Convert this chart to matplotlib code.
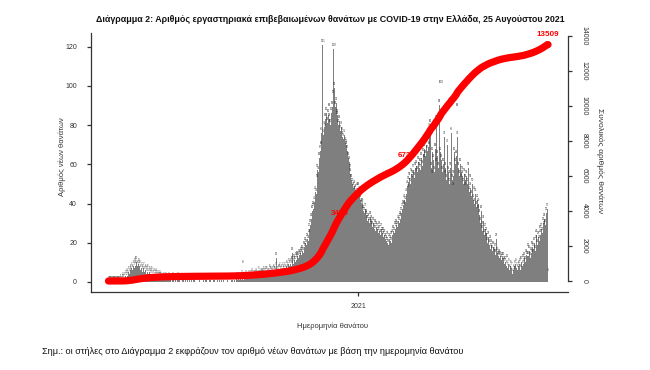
import matplotlib
matplotlib.use("Agg")
import matplotlib.pyplot as plt
import matplotlib.dates as mdates
import numpy as np
import pandas as pd

plt.rcParams['font.family'] = ['Liberation Sans', 'DejaVu Sans']

# daily new deaths by date of death (26 Feb 2020 - 25 Aug 2021)
start_date = "2020-02-26"
end_date = "2021-08-25"

feb20 = [0, 0, 0, 0]
mar20 = [0, 0, 0, 0, 0, 0, 0, 0, 0, 0, 0, 1, 0, 1, 2, 1, 2, 3, 2, 4, 3, 5, 4, 6, 5, 7, 6, 8, 7, 9, 8]
apr20 = [10, 8, 9, 7, 8, 6, 7, 5, 6, 7, 5, 6, 4, 5, 6, 4, 5, 3, 4, 5, 3, 4, 2, 3, 4, 2, 3, 2, 3, 2]
may20 = [2, 1, 1, 2, 0, 1, 2, 1, 1, 0, 2, 1, 1, 0, 1, 2, 1, 0, 1, 1, 0, 2, 1, 1, 0, 1, 0, 1, 1, 0, 1]
jun20 = [1, 0, 1, 0, 0, 1, 0, 1, 0, 0, 1, 1, 0, 0, 1, 0, 0, 1, 0, 1, 0, 0, 1, 0, 0, 1, 1, 0, 0, 1]
jul20 = [0, 1, 0, 0, 1, 0, 1, 0, 0, 1, 0, 0, 1, 0, 1, 0, 0, 1, 0, 0, 1, 0, 1, 0, 0, 1, 0, 1, 1, 0, 1]
aug20 = [1, 0, 2, 1, 1, 2, 1, 2, 1, 3, 8, 1, 2, 3, 2, 1, 2, 3, 2, 3, 2, 4, 2, 3, 3, 2, 4, 3, 2, 5, 3]
sep20 = [3, 4, 4, 3, 4, 5, 4, 5, 3, 5, 4, 4, 6, 5, 5, 4, 5, 6, 5, 5, 7, 12, 5, 6, 6, 7, 5, 6, 7, 6]
oct20 = [5, 7, 6, 8, 7, 6, 9, 8, 9, 8, 10, 15, 9, 11, 10, 12, 11, 13, 12, 14, 13, 15, 14, 16, 15,
         18, 17, 20, 19, 22, 21]
nov20 = [24, 27, 29, 32, 36, 38, 37, 41, 46, 45, 52, 57, 56, 63, 67, 69, 76, 121, 75, 79, 78, 83,
         86, 81, 85, 88, 83, 80, 86, 89]
dec20 = [95, 119, 99, 89, 91, 85, 84, 80, 82, 77, 79, 76, 74, 73, 75, 71, 69, 70, 67, 63, 61, 57,
         55, 52, 50, 48, 46, 49, 47, 45, 48]
jan21 = [48, 44, 46, 42, 40, 38, 40, 36, 35, 37, 33, 34, 31, 32, 30, 33, 29, 31, 28, 30, 27, 29,
         26, 28, 27, 25, 28, 26, 24, 27, 25]
feb21 = [25, 23, 24, 22, 21, 23, 20, 19, 22, 21, 23, 20, 24, 26, 25, 28, 27, 29, 28, 31, 30, 33,
         32, 35, 37, 39, 38, 42]
mar21 = [41, 45, 49, 47, 51, 53, 50, 55, 52, 54, 57, 53, 58, 55, 59, 56, 61, 58, 60, 57, 63, 59,
         65, 62, 68, 64, 70, 67, 73, 69, 78]
apr21 = [80, 58, 66, 54, 62, 56, 68, 82, 60, 64, 58, 90, 66, 100, 62, 56, 60, 74, 54, 58, 52, 70,
         56, 54, 50, 58, 76, 52, 48, 54]
may21 = [66, 60, 64, 88, 74, 58, 54, 60, 52, 56, 54, 50, 55, 52, 48, 54, 50, 58, 46, 52, 48, 44,
         50, 42, 46, 40, 45, 38, 42, 36, 40]
jun21 = [34, 30, 36, 28, 26, 31, 24, 27, 22, 25, 20, 23, 19, 21, 17, 19, 16, 18, 15, 17, 14, 22,
         15, 13, 14, 12, 13, 11, 12, 10]
jul21 = [12, 9, 10, 8, 11, 7, 9, 6, 8, 5, 7, 4, 6, 8, 5, 9, 7, 6, 8, 7, 9, 6, 10, 8, 11, 9, 12,
         10, 14, 13, 17]
aug21 = [13, 16, 12, 15, 14, 18, 17, 20, 16, 21, 24, 19, 23, 21, 26, 24, 27, 25, 30, 28, 32, 29,
         35, 37, 4]

# cumulative labels written on the red line
label_values = [3420, 6736]
label_texts = ["3420", "6736"]
final_label = "13509"

left_ticks = [0, 20, 40, 60, 80, 100, 120]
right_ticks = [0, 2000, 4000, 6000, 8000, 10000, 12000, 14000]
year_tick = "2021-01-01"
year_label = "2021"

title = ("Διάγραμμα 2: Αριθμός εργαστηριακά επιβεβαιωμένων θανάτων με COVID-19 "
         "στην Ελλάδα, 25 Αυγούστου 2021")
left_title = "Αριθμός νέων θανάτων"
right_title = "Συνολικός αριθμός θανάτων"
x_title = "Ημερομηνία θανάτου"
note = ("Σημ.: οι στήλες στο Διάγραμμα 2 εκφράζουν τον αριθμό νέων θανάτων "
        "με βάση την ημερομηνία θανάτου")

daily = np.array(feb20 + mar20 + apr20 + may20 + jun20 + jul20 + aug20 + sep20 + oct20
                 + nov20 + dec20 + jan21 + feb21 + mar21 + apr21 + may21 + jun21 + jul21 + aug21)
dates = pd.date_range(start_date, periods=len(daily), freq="D")
if dates[-1] != pd.Timestamp(end_date):
    raise ValueError(f"data ends on {dates[-1].date()}, expected {end_date}")
cumulative = np.cumsum(daily)

W, H = 650, 370
fig = plt.figure(figsize=(W / 100, H / 100), dpi=100)
ax = fig.add_axes([91 / W, 78 / H, 477 / W, 259 / H])

x0 = mdates.date2num(dates[0])
ax.set_xlim(x0 - 21.7, x0 + 570.8)
ax.set_ylim(-5.1, 126.9)

ax.bar(dates, daily, width=1.0, color="#7f7f7f", linewidth=0, zorder=1)
for d, v in zip(dates, daily):
    ax.text(d, v + 1.0, str(v), fontsize=2.0, ha="center", va="bottom",
            color="#2b2b2b", zorder=2)

dark = "#333333"
for side in ["top", "right"]:
    ax.spines[side].set_visible(False)
for side in ["left", "bottom"]:
    ax.spines[side].set_color(dark)
    ax.spines[side].set_linewidth(0.9)

ax.set_yticks(left_ticks)
ax.tick_params(axis="y", direction="out", length=3, width=0.9, labelsize=5, pad=7,
               colors=dark)
ax.set_xticks([mdates.date2num(pd.Timestamp(year_tick))])
ax.set_xticklabels([year_label])
ax.tick_params(axis="x", direction="out", length=3, width=0.9, labelsize=5, pad=5,
               colors=dark)

ax2 = ax.twinx()
ax2.set_ylim(-629, 14171)
for side in ["top", "left", "bottom"]:
    ax2.spines[side].set_visible(False)
ax2.spines["right"].set_bounds(0, 14000)
ax2.spines["right"].set_color(dark)
ax2.spines["right"].set_linewidth(0.9)
ax2.set_yticks(right_ticks)
ax2.tick_params(axis="y", direction="out", length=3, width=0.9, labelsize=5, pad=6,
                colors=dark, labelrotation=-90)
for lab in ax2.get_yticklabels():
    lab.set_va("center")

ax2.plot(dates, cumulative, color="red", lw=5.2, solid_capstyle="round", zorder=3)

for val, txt in zip(label_values, label_texts):
    idx = int(np.searchsorted(cumulative, val))
    ax2.text(dates[idx] + pd.Timedelta(days=2), val + 460, txt, color="red", fontsize=5.8,
             fontweight="bold", ha="center", va="center", zorder=2)
ax2.text(dates[-1], cumulative[-1] + 560, final_label, color="red", fontsize=5.8,
         fontweight="bold", ha="center", va="center", zorder=4)

fig.text(330 / W, 1 - 19 / H, title, ha="center", va="center", fontsize=6.4,
         fontweight="bold", color="#111111")
fig.text(62 / W, 1 - 157 / H, left_title, rotation=90, ha="center", va="center",
         fontsize=5.5, color=dark)
fig.text(600 / W, 1 - 161 / H, right_title, rotation=-90, ha="center", va="center",
         fontsize=6, color=dark)
fig.text(333 / W, 1 - 326 / H, x_title, ha="center", va="center", fontsize=5.5, color=dark)
fig.text(42 / W, 1 - 351 / H, note, ha="left", va="center", fontsize=6.55, color="#111111")

fig.savefig("out.png", dpi=100)
plt.close(fig)
